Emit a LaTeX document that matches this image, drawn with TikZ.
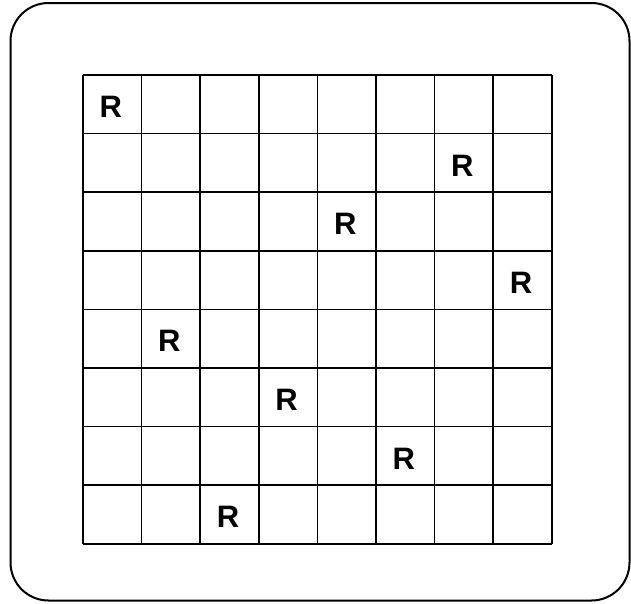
\documentclass[tikz,border=0pt]{standalone}
\usepackage{fontspec}
\setmainfont{Liberation Sans}
\begin{document}
\begin{tikzpicture}[x=1pt,y=-1pt,
  frame/.style={draw=black,line width=2pt,rounded corners=38pt},
  gridline/.style={draw=black,line width=1.7pt},
  queen/.style={font=\fontsize{31}{31}\selectfont\bfseries,inner sep=0pt}]
\useasboundingbox (0,0) rectangle (631,603);
\draw[frame] (10.5,3) rectangle (629.5,600.5);
\foreach \i in {0,...,8}{
  \draw[gridline] ({83+\i*58.6},75) -- ({83+\i*58.6},543.8);
  \draw[gridline] (83,{75+\i*58.6}) -- (551.8,{75+\i*58.6});
}
\foreach \r/\c [count=\n] in {0/0,1/6,2/4,3/7,4/1,5/3,6/5,7/2}{
  \node[queen] (q\n) at ({83+(\c+0.5)*58.6-1.5},{75+(\r+0.5)*58.6+2.5}) {R};
}
\end{tikzpicture}
\end{document}
